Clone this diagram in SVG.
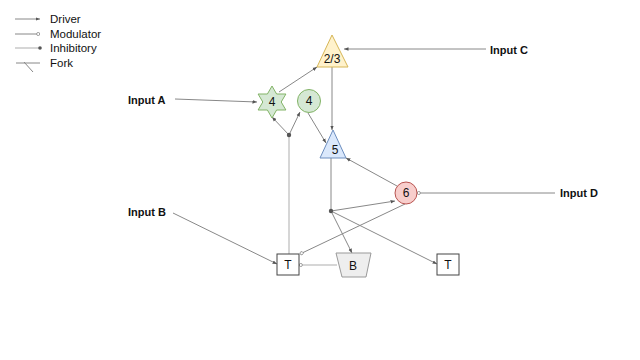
<svg xmlns="http://www.w3.org/2000/svg" width="640" height="360" viewBox="0 0 640 360">
<defs>
<marker id="drv" viewBox="0 0 10 10" refX="10" refY="5" markerWidth="4.5" markerHeight="4.5" orient="auto" markerUnits="userSpaceOnUse"><path d="M0,1 L10,5 L0,9 Z" fill="#555"/></marker>
<marker id="mod" viewBox="0 0 10 10" refX="9" refY="5" markerWidth="4.5" markerHeight="4.5" orient="auto" markerUnits="userSpaceOnUse"><circle cx="5" cy="5" r="3.5" fill="#fff" stroke="#777" stroke-width="1.5"/></marker>
</defs>
<style>
.e{fill:none;stroke:#888;stroke-width:1}
.l{fill:none;stroke:#c8c8c8;stroke-width:1.5}
.t{font-family:"Liberation Sans",Arial,sans-serif;font-size:11.5px;fill:#111}
.in{font-family:"Liberation Sans",Arial,sans-serif;font-size:11px;font-weight:bold;fill:#111}
.n{font-family:"Liberation Sans",Arial,sans-serif;font-size:12px;fill:#111;text-anchor:middle}
.dot{fill:#555}
</style>
<rect width="640" height="360" fill="#fff"/>
<g id="legend">
<line x1="15" y1="19" x2="40" y2="19" class="e" marker-end="url(#drv)"/>
<text x="50" y="23" class="t">Driver</text>
<line x1="15" y1="34" x2="40" y2="34" class="e" marker-end="url(#mod)"/>
<text x="50" y="38" class="t">Modulator</text>
<line x1="15" y1="48" x2="40" y2="48" class="l"/>
<circle cx="40" cy="48" r="1.8" class="dot"/>
<text x="50" y="52" class="t">Inhibitory</text>
<line x1="16" y1="63" x2="40" y2="63" class="e"/>
<line x1="24" y1="62" x2="33" y2="72" class="e"/>
<text x="50" y="67" class="t">Fork</text>
</g>
<g id="edges">
<line x1="175" y1="99" x2="257" y2="102" class="e" marker-end="url(#drv)"/>
<line x1="279" y1="92" x2="317" y2="67" class="e" marker-end="url(#drv)"/>
<line x1="486" y1="49" x2="344" y2="49" class="e" marker-end="url(#drv)"/>
<line x1="332" y1="67" x2="332" y2="130" class="e" marker-end="url(#drv)"/>
<line x1="308" y1="113" x2="326" y2="143" class="e" marker-end="url(#drv)"/>
<line x1="289" y1="254" x2="289" y2="135" class="l"/>
<line x1="289" y1="135" x2="272" y2="117" class="e" marker-end="url(#drv)"/>
<line x1="289" y1="135" x2="300" y2="112" class="e" marker-end="url(#drv)"/>
<circle cx="289" cy="135" r="2.2" class="dot"/>
<line x1="331" y1="158" x2="331" y2="211" class="e"/>
<line x1="331" y1="211" x2="395" y2="201" class="e" marker-end="url(#drv)"/>
<line x1="331" y1="211" x2="352" y2="253" class="e" marker-end="url(#drv)"/>
<line x1="331" y1="211" x2="437" y2="264" class="e" marker-end="url(#drv)"/>
<circle cx="331" cy="211" r="2.2" class="dot"/>
<line x1="397" y1="186" x2="346" y2="158" class="e" marker-end="url(#drv)"/>
<line x1="405" y1="204" x2="300" y2="254" class="e" marker-end="url(#mod)"/>
<line x1="337" y1="265" x2="299" y2="265" class="l" marker-end="url(#mod)"/>
<line x1="173" y1="213" x2="277" y2="264" class="e" marker-end="url(#drv)"/>
<line x1="555" y1="193" x2="417" y2="193" class="e" marker-end="url(#mod)"/>
</g>
<g id="inputA"><text x="128" y="104" class="in">Input A</text></g>
<g id="inputB"><text x="128" y="216" class="in">Input B</text></g>
<g id="inputC"><text x="490" y="54" class="in">Input C</text></g>
<g id="inputD"><text x="560" y="197" class="in">Input D</text></g>
<g id="n23">
<polygon points="332,35 317,67 348,67" fill="#fff2cc" stroke="#d6b656"/>
<text x="332" y="63" class="n">2/3</text>
</g>
<g id="star4">
<polygon points="272,86 276.6,94 285.9,94 281.2,102 285.9,110 276.6,110 272,118 267.4,110 258.1,110 262.8,102 258.1,94 267.4,94" fill="#d5e8d4" stroke="#82b366"/>
<text x="272" y="106" class="n">4</text>
</g>
<g id="circ4">
<circle cx="309" cy="101" r="11.5" fill="#d5e8d4" stroke="#82b366"/>
<text x="309" y="105" class="n">4</text>
</g>
<g id="n5">
<polygon points="333,130 320,158 346,158" fill="#dae8fc" stroke="#6c8ebf"/>
<text x="335" y="154" class="n">5</text>
</g>
<g id="n6">
<circle cx="406" cy="193" r="11" fill="#f8cecc" stroke="#b85450"/>
<text x="406" y="197" class="n">6</text>
</g>
<g id="tLeft">
<rect x="277" y="254" width="22" height="21" fill="#fff" stroke="#444"/>
<text x="288" y="269" class="n">T</text>
</g>
<g id="nB">
<polygon points="336,253 371,253 366,277 342,277" fill="#eeeeee" stroke="#999"/>
<text x="353" y="270" class="n">B</text>
</g>
<g id="tRight">
<rect x="437" y="254" width="22" height="21" fill="#fff" stroke="#444"/>
<text x="448" y="269" class="n">T</text>
</g>
</svg>
